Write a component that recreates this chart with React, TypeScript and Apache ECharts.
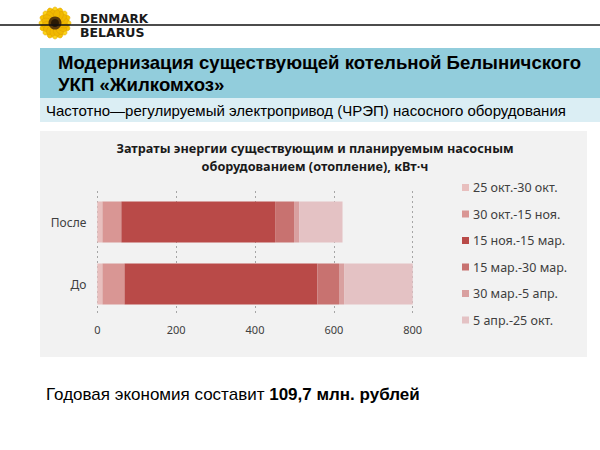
import React, { useEffect, useRef } from "react";
import * as echarts from "echarts";

const categories = ["До", "После"];
const seriesNames = [
  "25 окт.-30 окт.",
  "30 окт.-15 ноя.",
  "15 ноя.-15 мар.",
  "15 мар.-30 мар.",
  "30 мар.-5 апр.",
  "5 апр.-25 окт.",
];
// values per series: [До, После]
const seriesValues = [
  [13, 13],
  [56, 48],
  [489, 390],
  [55, 48],
  [13, 13],
  [180, 110],
];
const seriesColors = ["#e8bfbe", "#d99694", "#b94a48", "#c87270", "#d9a0a0", "#e4c2c4"];
const xTicks = [0, 200, 400, 600, 800];

function sunflower(cx: number, cy: number) {
  const petals: any[] = [];
  const n = 16;
  for (let i = 0; i < n; i++) {
    petals.push({
      type: "group",
      rotation: (i * 2 * Math.PI) / n,
      children: [
        {
          type: "ellipse",
          shape: { cx: 0, cy: -9.5, rx: 3.6, ry: 6.5 },
          style: { fill: i % 2 ? "#f5c200" : "#fbd31a", stroke: "#e0a400", lineWidth: 0.5 },
        },
      ],
    });
  }
  for (let i = 0; i < n; i++) {
    petals.push({
      type: "group",
      rotation: ((i + 0.5) * 2 * Math.PI) / n,
      children: [
        {
          type: "ellipse",
          shape: { cx: 0, cy: -8, rx: 3.2, ry: 5.5 },
          style: { fill: "#f0b800", stroke: "#d99a00", lineWidth: 0.4 },
        },
      ],
    });
  }
  petals.push({ type: "circle", shape: { cx: 0, cy: 0, r: 6.5 }, style: { fill: "#5a3a0a" } });
  petals.push({ type: "circle", shape: { cx: 0, cy: 0, r: 4 }, style: { fill: "#2a1a05" } });
  return { type: "group", x: cx, y: cy, children: petals, z: 10 };
}

export default function App() {
  const ref = useRef<HTMLDivElement>(null);
  useEffect(() => {
    if (!ref.current) return;
    const chart = echarts.init(ref.current, null, { renderer: "svg" });
    const option: any = {
      animation: false,
      backgroundColor: "#ffffff",
      graphic: [
        { type: "rect", shape: { x: 40, y: 48, width: 560, height: 50 }, style: { fill: "#92cddc" }, z: -10 },
        { type: "rect", shape: { x: 40, y: 98, width: 560, height: 24 }, style: { fill: "#dbeef4" }, z: -10 },
        { type: "rect", shape: { x: 40, y: 131, width: 547, height: 226 }, style: { fill: "#f2f2f2" }, z: -10 },
        { type: "line", shape: { x1: 0, y1: 25, x2: 600, y2: 25 }, style: { stroke: "#111111", lineWidth: 1.5 }, z: 1 },
        sunflower(55, 23),
        {
          type: "text", x: 80, y: 19,
          style: { text: "DENMARK", font: "bold 12px 'DejaVu Sans'", fill: "#1a1a1a", verticalAlign: "middle" },
        },
        {
          type: "text", x: 80, y: 32.5,
          style: { text: "BELARUS", font: "bold 12.5px 'DejaVu Sans'", fill: "#1a1a1a", verticalAlign: "middle" },
        },
        {
          type: "text", x: 58, y: 62,
          style: { text: "Модернизация существующей котельной Белыничского", font: "bold 18.6px 'Liberation Sans'", fill: "#000000", verticalAlign: "middle" },
        },
        {
          type: "text", x: 58, y: 84,
          style: { text: "УКП «Жилкомхоз»", font: "bold 18.6px 'Liberation Sans'", fill: "#000000", verticalAlign: "middle" },
        },
        {
          type: "text", x: 46, y: 110,
          style: { text: "Частотно—регулируемый электропривод (ЧРЭП) насосного оборудования", font: "15px 'Liberation Sans'", fill: "#000000", verticalAlign: "middle" },
        },
        {
          type: "text", x: 315, y: 157,
          style: {
            text: "Затраты энергии существующим и планируемым насосным\nоборудованием (отопление), кВт·ч",
            font: "bold 12.7px 'Noto Sans'", fill: "#1a1a1a", align: "center", verticalAlign: "middle", lineHeight: 18,
          },
        },
        {
          type: "text", x: 46, y: 394,
          style: {
            text: "{a|Годовая экономия составит }{b|109,7 млн. рублей}",
            verticalAlign: "middle",
            rich: {
              a: { fontFamily: "Liberation Sans", fontSize: 17, fill: "#000000", color: "#000000" },
              b: { fontFamily: "Liberation Sans", fontSize: 17, fontWeight: "bold", fill: "#000000", color: "#000000" },
            },
          },
        },
      ],
      legend: {
        orient: "vertical",
        left: 457,
        top: 176,
        itemWidth: 7,
        itemHeight: 7,
        itemGap: 13.5,
        itemStyle: { borderWidth: 0 },
        textStyle: { fontFamily: "Noto Sans", fontSize: 12.5, color: "#404040", padding: [0, 0, 0, -1] },
        data: seriesNames.map((n) => ({ name: n, icon: "rect" })),
      },
      grid: { left: 97.3, top: 191, width: 315.4, height: 124, containLabel: false },
      xAxis: {
        type: "value",
        min: 0,
        max: 800,
        interval: 200,
        axisLine: { show: false },
        axisTick: { show: false },
        axisLabel: {
          fontFamily: "Noto Sans", fontSize: 11, color: "#404040", margin: 9,
          formatter: (v: number) => (xTicks.includes(v) ? String(v) : ""),
        },
        splitLine: { show: true, lineStyle: { type: [2, 3], color: "#a6a6a6", width: 1 } },
      },
      yAxis: {
        type: "category",
        data: categories,
        axisLine: { show: false },
        axisTick: { show: false },
        axisLabel: { fontFamily: "Noto Sans", fontSize: 12, color: "#404040", margin: 11 },
      },
      series: seriesNames.map((name, i) => ({
        name,
        type: "bar",
        stack: "total",
        barWidth: 41,
        data: seriesValues[i],
        itemStyle: { color: seriesColors[i] },
        emphasis: { disabled: true },
      })),
    };
    chart.setOption(option);
    return () => chart.dispose();
  }, []);
  return (
    <div
      ref={ref}
      style={{ position: "fixed", left: 0, top: 0, width: 600, height: 450 }}
    />
  );
}
